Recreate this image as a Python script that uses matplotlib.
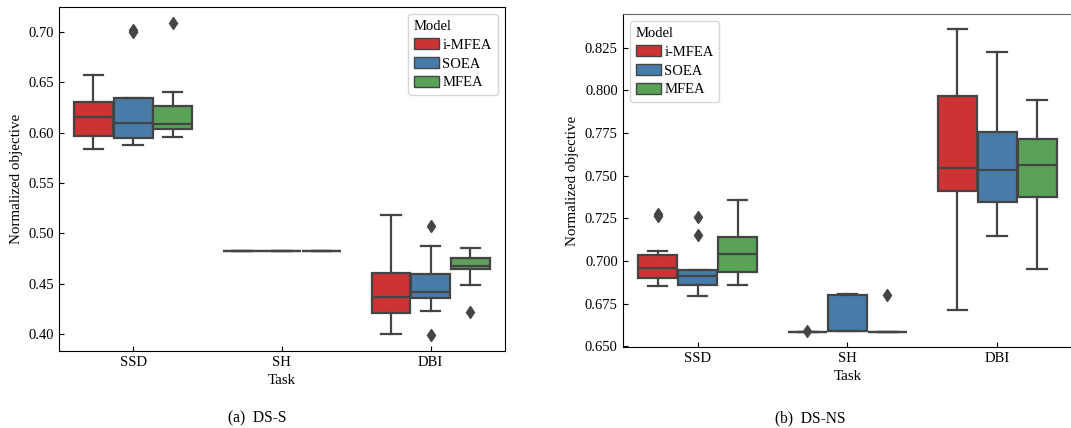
import matplotlib
matplotlib.use("Agg")
import matplotlib.pyplot as plt
import seaborn as sns
from matplotlib.patches import Patch

plt.rcParams['font.family'] = ['Liberation Serif', 'DejaVu Serif']

tasks = ["SSD", "SH", "DBI"]
models = ["i-MFEA", "SOEA", "MFEA"]

# ---- DS-S (left), per model: values for SSD, SH, DBI
s_whislo = {"i-MFEA": [0.5842, 0.4826, 0.4003],
            "SOEA":   [0.5878, 0.4826, 0.4229],
            "MFEA":   [0.5961, 0.4826, 0.4484]}
s_q1 = {"i-MFEA": [0.5968, 0.4826, 0.4205],
        "SOEA":   [0.5951, 0.4826, 0.4361],
        "MFEA":   [0.6034, 0.4826, 0.4644]}
s_med = {"i-MFEA": [0.6157, 0.4826, 0.4365],
         "SOEA":   [0.6100, 0.4826, 0.4415],
         "MFEA":   [0.6087, 0.4826, 0.4673]}
s_q3 = {"i-MFEA": [0.6310, 0.4826, 0.4610],
        "SOEA":   [0.6346, 0.4826, 0.4594],
        "MFEA":   [0.6267, 0.4826, 0.4756]}
s_whishi = {"i-MFEA": [0.6569, 0.4826, 0.5181],
            "SOEA":   [0.6346, 0.4826, 0.4869],
            "MFEA":   [0.6403, 0.4826, 0.4853]}
s_fliers = {"i-MFEA": [[], [], []],
            "SOEA":   [[0.7020, 0.7000], [], [0.5072, 0.3987]],
            "MFEA":   [[0.7093], [], [0.4215]]}

# ---- DS-NS (right)
n_whislo = {"i-MFEA": [0.6853, 0.6586, 0.6711],
            "SOEA":   [0.6797, 0.6588, 0.7148],
            "MFEA":   [0.6861, 0.6586, 0.6951]}
n_q1 = {"i-MFEA": [0.6898, 0.6586, 0.7411],
        "SOEA":   [0.6857, 0.6588, 0.7345],
        "MFEA":   [0.6933, 0.6586, 0.7376]}
n_med = {"i-MFEA": [0.6958, 0.6586, 0.7544],
         "SOEA":   [0.6910, 0.6588, 0.7532],
         "MFEA":   [0.7040, 0.6586, 0.7565]}
n_q3 = {"i-MFEA": [0.7037, 0.6586, 0.7969],
        "SOEA":   [0.6945, 0.6800, 0.7756],
        "MFEA":   [0.7142, 0.6586, 0.7713]}
n_whishi = {"i-MFEA": [0.7056, 0.6586, 0.8360],
            "SOEA":   [0.6949, 0.6808, 0.8227],
            "MFEA":   [0.7355, 0.6586, 0.7942]}
n_fliers = {"i-MFEA": [[0.7275, 0.7261], [0.6590], []],
            "SOEA":   [[0.7257, 0.7152], [], []],
            "MFEA":   [[], [0.6800], []]}

colors = sns.color_palette("Set1", 3, desat=0.75)
gray = "#444444"


def draw(ax, lo, q1, med, q3, hi, fl):
    w = 0.8 / 3
    for j, m in enumerate(models):
        stats = []
        for i in range(len(tasks)):
            stats.append(dict(whislo=lo[m][i], q1=q1[m][i], med=med[m][i],
                              q3=q3[m][i], whishi=hi[m][i], fliers=fl[m][i]))
        pos = [i + (j - 1) * w for i in range(len(tasks))]
        ax.bxp(stats, positions=pos, widths=w * 0.98, patch_artist=True,
               showfliers=True, manage_ticks=False,
               boxprops=dict(facecolor=colors[j], edgecolor=gray, linewidth=1.6),
               medianprops=dict(color=gray, linewidth=1.6),
               whiskerprops=dict(color=gray, linewidth=1.6),
               capprops=dict(color=gray, linewidth=1.6),
               flierprops=dict(marker='d', markerfacecolor=gray,
                               markeredgecolor=gray, markersize=6))
    ax.set_xlim(-0.5, 2.5)
    ax.set_xticks(range(len(tasks)))
    ax.set_xticklabels(tasks)
    ax.tick_params(direction='in', labelsize=10.5, length=3.5)
    ax.set_xlabel("Task", fontsize=10.8, labelpad=4)
    ax.set_ylabel("Normalized objective", fontsize=10.8)


fig = plt.figure(figsize=(10.71, 4.28), dpi=100)
ax1 = fig.add_axes([58.7 / 1071, 1 - 351 / 428, 446.3 / 1071, 344 / 428])
ax2 = fig.add_axes([622.7 / 1071, 1 - 347 / 428, 449.5 / 1071, 333 / 428])

draw(ax1, s_whislo, s_q1, s_med, s_q3, s_whishi, s_fliers)
draw(ax2, n_whislo, n_q1, n_med, n_q3, n_whishi, n_fliers)

ax1.set_ylim(0.383, 0.725)
ax1.set_yticks([0.40, 0.45, 0.50, 0.55, 0.60, 0.65, 0.70])
ax1.yaxis.set_major_formatter(matplotlib.ticker.FormatStrFormatter('%.2f'))
ax2.set_ylim(0.6496, 0.8447)
ax2.set_yticks([0.650, 0.675, 0.700, 0.725, 0.750, 0.775, 0.800, 0.825])
ax2.yaxis.set_major_formatter(matplotlib.ticker.FormatStrFormatter('%.3f'))
ax2.spines['top'].set_color('#666666')
ax2.spines['right'].set_visible(False)

handles = [Patch(facecolor=colors[j], edgecolor=gray, label=m) for j, m in enumerate(models)]
for ax, loc in [(ax1, 'upper right'), (ax2, 'upper left')]:
    ax.legend(handles=handles, title="Model", loc=loc, fontsize=10.5,
              title_fontsize=10.5, handlelength=1.7, handleheight=0.8,
              handletextpad=0.25, labelspacing=0.35, borderpad=0.4,
              alignment='left')

fig.text(257 / 1071, 1 - 418 / 428, "(a)  DS-S", ha='center', va='center', fontsize=11.2)
fig.text(810 / 1071, 1 - 418 / 428, "(b)  DS-NS", ha='center', va='center', fontsize=11.2)

fig.savefig("out.png", dpi=100)
